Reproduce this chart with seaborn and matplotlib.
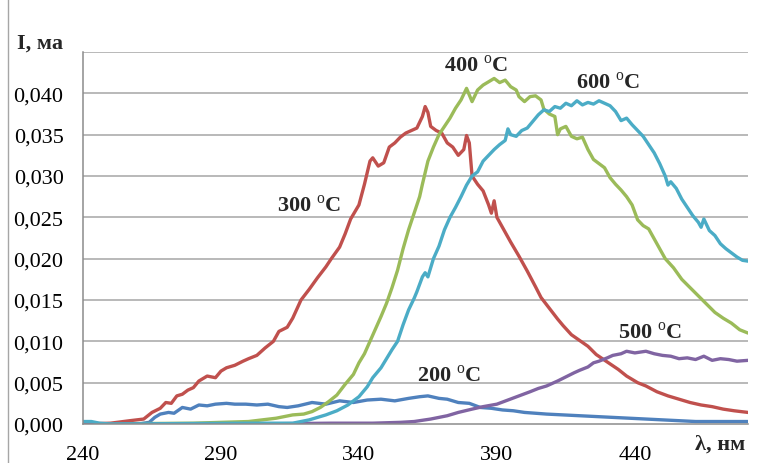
import numpy as np
import pandas as pd
import matplotlib
matplotlib.use("Agg")
import matplotlib.pyplot as plt
from matplotlib.ticker import FuncFormatter
from matplotlib.lines import Line2D
import seaborn as sns

# Spectra (wavelength in nm, current in mA)
wl_200 = [240, 250, 260, 264, 266, 268, 271, 273, 276, 279, 282, 285, 288, 292, 295, 299, 303, 307, 311, 314,
          318, 323, 328, 333, 338, 343, 348, 353, 358, 362, 365, 369, 372, 376, 380, 384, 388, 392, 396, 400,
          404, 408, 414, 420, 426, 432, 438, 444, 450, 456, 462, 468, 474, 481]
i_200 = [0.0, 0.0, 0.0, 0.0002, 0.0008, 0.0012, 0.0014, 0.0013, 0.0020, 0.0018, 0.0023, 0.0022, 0.0024, 0.0025,
         0.0024, 0.0024, 0.0023, 0.0024, 0.0021, 0.0020, 0.0022, 0.0026, 0.0024, 0.0028, 0.0026, 0.0029, 0.0030,
         0.0028, 0.0031, 0.0033, 0.0034, 0.0031, 0.0030, 0.0026, 0.0025, 0.0020, 0.0019, 0.0017, 0.0016, 0.0014,
         0.0013, 0.0012, 0.0011, 0.0010, 0.0009, 0.0008, 0.0007, 0.0006, 0.0005, 0.0004, 0.0003, 0.0003, 0.0003,
         0.0003]

wl_300 = [240, 250, 257, 262, 265, 268, 270, 272, 274, 276, 278, 280, 282, 285, 288, 290, 292, 295, 298, 300,
          303, 306, 309, 311, 314, 316, 319, 322, 325, 328, 330, 333, 335, 337, 340, 342, 344, 345, 347, 349,
          351, 353, 355, 357, 359, 361, 362, 363, 364, 365, 366, 368, 370, 372, 374, 376, 378, 379, 380, 381,
          383, 385, 387, 388, 389, 390, 392, 395, 398, 401, 404, 406, 409, 412, 414, 417, 420, 423, 426, 430,
          434, 437, 441, 444, 448, 452, 456, 460, 464, 468, 472, 476, 481]
i_300 = [0.0, 0.0001, 0.0004, 0.0006, 0.0014, 0.0019, 0.0026, 0.0025, 0.0034, 0.0036, 0.0041, 0.0044, 0.0052,
         0.0058, 0.0056, 0.0064, 0.0068, 0.0071, 0.0076, 0.0079, 0.0083, 0.0092, 0.0100, 0.0112, 0.0117, 0.0128,
         0.0150, 0.0163, 0.0177, 0.0190, 0.0200, 0.0214, 0.0230, 0.0248, 0.0265, 0.0290, 0.0318, 0.0322, 0.0312,
         0.0316, 0.0335, 0.0340, 0.0347, 0.0352, 0.0355, 0.0358, 0.0365, 0.0372, 0.0384, 0.0377, 0.0360, 0.0355,
         0.0352, 0.0340, 0.0335, 0.0325, 0.0332, 0.0349, 0.0340, 0.0300, 0.0290, 0.0282, 0.0265, 0.0255, 0.0270,
         0.0250, 0.0238, 0.0220, 0.0203, 0.0185, 0.0166, 0.0153, 0.0140, 0.0127, 0.0119, 0.0108, 0.0101, 0.0094,
         0.0084, 0.0075, 0.0066, 0.0058, 0.0050, 0.0046, 0.0039, 0.0034, 0.0030, 0.0026, 0.0023, 0.0021, 0.0018,
         0.0016, 0.0014]

wl_400 = [240, 280, 300, 305, 310, 316, 320, 323, 326, 329, 332, 335, 338, 340, 342, 344, 346, 348, 350, 352,
          354, 356, 358, 360, 362, 363, 365, 367, 369, 371, 373, 375, 377, 379, 380, 381, 383, 385, 387, 389,
          391, 393, 395, 397, 398, 400, 402, 404, 406, 407, 409, 411, 412, 413, 415, 417, 419, 421, 423, 425,
          427, 429, 431, 433, 435, 437, 439, 441, 443, 445, 448, 451, 454, 457, 460, 463, 466, 469, 472, 475,
          478, 481]
i_400 = [0.0, 0.0001, 0.0003, 0.0005, 0.0007, 0.0011, 0.0012, 0.0015, 0.0020, 0.0027, 0.0035, 0.0048, 0.0060,
         0.0074, 0.0085, 0.0100, 0.0115, 0.0130, 0.0146, 0.0165, 0.0186, 0.0212, 0.0235, 0.0255, 0.0275, 0.0290,
         0.0318, 0.0335, 0.0350, 0.0360, 0.0370, 0.0382, 0.0392, 0.0406, 0.0398, 0.0390, 0.0404, 0.0410, 0.0414,
         0.0418, 0.0413, 0.0416, 0.0408, 0.0404, 0.0396, 0.0390, 0.0396, 0.0397, 0.0392, 0.0381, 0.0375, 0.0372,
         0.0350, 0.0357, 0.0360, 0.0348, 0.0345, 0.0347, 0.0332, 0.0320, 0.0315, 0.0310, 0.0298, 0.0290, 0.0283,
         0.0275, 0.0265, 0.0247, 0.0240, 0.0236, 0.0218, 0.0200, 0.0189, 0.0175, 0.0165, 0.0155, 0.0145, 0.0135,
         0.0128, 0.0122, 0.0114, 0.0110]

wl_500 = [240, 300, 330, 345, 355, 360, 366, 372, 376, 381, 385, 390, 394, 398, 402, 405, 408, 412, 415, 418,
          420, 423, 425, 427, 430, 432, 435, 437, 440, 442, 444, 447, 450, 453, 456, 459, 462, 465, 468, 471,
          474, 477, 481]
i_500 = [0.0, 0.0, 0.0001, 0.0001, 0.0002, 0.0003, 0.0006, 0.0010, 0.0014, 0.0018, 0.0021, 0.0024, 0.0029,
         0.0034, 0.0039, 0.0043, 0.0046, 0.0052, 0.0057, 0.0062, 0.0065, 0.0069, 0.0074, 0.0076, 0.0080, 0.0083,
         0.0085, 0.0088, 0.0086, 0.0087, 0.0088, 0.0085, 0.0083, 0.0082, 0.0079, 0.0080, 0.0078, 0.0082, 0.0077,
         0.0079, 0.0078, 0.0076, 0.0077]

wl_600 = [240, 243, 246, 250, 300, 316, 322, 328, 332, 336, 340, 343, 345, 348, 350, 352, 354, 356, 358, 360,
          361, 363, 364, 365, 367, 369, 371, 373, 375, 377, 379, 381, 383, 385, 387, 389, 391, 393, 394, 395,
          397, 399, 401, 403, 405, 407, 409, 411, 413, 415, 417, 419, 421, 423, 425, 427, 429, 431, 433, 435,
          437, 439, 441, 443, 445, 447, 449, 451, 452, 453, 455, 457, 459, 461, 463, 464, 465, 467, 469, 471,
          473, 475, 477, 479, 481]
i_600 = [0.0003, 0.0003, 0.0001, 0.0, 0.0001, 0.0001, 0.0005, 0.0011, 0.0016, 0.0023, 0.0033, 0.0045, 0.0056,
         0.0068, 0.0079, 0.0090, 0.0100, 0.0120, 0.0138, 0.0152, 0.0160, 0.0178, 0.0183, 0.0178, 0.0200, 0.0215,
         0.0235, 0.0250, 0.0262, 0.0275, 0.0289, 0.0300, 0.0305, 0.0318, 0.0325, 0.0332, 0.0338, 0.0343, 0.0357,
         0.0350, 0.0348, 0.0355, 0.0358, 0.0366, 0.0374, 0.0380, 0.0378, 0.0384, 0.0382, 0.0388, 0.0385, 0.0391,
         0.0386, 0.0389, 0.0387, 0.0391, 0.0388, 0.0385, 0.0378, 0.0367, 0.0370, 0.0362, 0.0355, 0.0348, 0.0338,
         0.0328, 0.0315, 0.0300, 0.0289, 0.0293, 0.0285, 0.0272, 0.0262, 0.0252, 0.0244, 0.0238, 0.0248, 0.0234,
         0.0228, 0.0218, 0.0212, 0.0207, 0.0202, 0.0198, 0.0197]

series_names = ["200", "300", "400", "500", "600"]
series_colors = ["#4F81BD", "#C0504D", "#9BBB59", "#8064A2", "#4BACC6"]
x_ticks = [240, 290, 340, 390, 440]
y_ticks = [0.0, 0.005, 0.010, 0.015, 0.020, 0.025, 0.030, 0.035, 0.040]
# label anchor (nm, mA) for each curve annotation
label_pos = {"200": (372.6, 0.0059), "300": (321.9, 0.0265), "400": (382.4, 0.0434),
             "500": (445.4, 0.0111), "600": (430.2, 0.0413)}

frames = []
for name, wl, cur in zip(series_names, [wl_200, wl_300, wl_400, wl_500, wl_600],
                         [i_200, i_300, i_400, i_500, i_600]):
    frames.append(pd.DataFrame({"wl": wl, "I": cur, "T": name}))
df = pd.concat(frames, ignore_index=True)

sns.set_style("white")
plt.rcParams["font.family"] = ["Liberation Serif", "DejaVu Serif"]
plt.rcParams["mathtext.fontset"] = "custom"
plt.rcParams["mathtext.rm"] = "Liberation Serif"
plt.rcParams["mathtext.bf"] = "Liberation Serif:bold"

fig = plt.figure(figsize=(7.61, 4.64), dpi=100)
ax = fig.add_axes([83 / 761, 1 - 425 / 464, (748 - 83) / 761, (425 - 53) / 464])

sns.lineplot(data=df, x="wl", y="I", hue="T", hue_order=series_names,
             palette=dict(zip(series_names, series_colors)), estimator=None, sort=False,
             linewidth=2.4, legend=False, ax=ax)

ax.set_xlim(240, 481)
ax.set_ylim(0, 0.045)
ax.set_xticks(x_ticks)
ax.set_yticks(y_ticks)
ax.yaxis.set_major_formatter(FuncFormatter(lambda v, p: f"{v:.3f}".replace(".", ",")))
ax.set_xlabel("")
ax.set_ylabel("")

# horizontal grid, including top line at 0.045
for yv in np.arange(0.005, 0.0451, 0.005):
    ax.axhline(yv, color="#A6A6A6", linewidth=1.1, zorder=0)

for side in ["top", "right"]:
    ax.spines[side].set_visible(False)
for side in ["left", "bottom"]:
    ax.spines[side].set_color("#8C8C8C")
    ax.spines[side].set_linewidth(1.1)

ax.tick_params(axis="both", which="major", direction="out", length=5, width=1.1,
               color="#8C8C8C", labelsize=16, labelcolor="black")
ax.tick_params(axis="x", pad=10)
ax.tick_params(axis="y", pad=9)

for name in series_names:
    x, y = label_pos[name]
    ax.text(x, y, name + r" $^\mathrm{o}$C", fontsize=16, fontweight="bold", ha="center", va="center")

fig.text(17 / 761, 1 - 44 / 464, "I, ма", fontsize=16, fontweight="bold", ha="left", va="center")
fig.text(720 / 761, 1 - 445 / 464, "λ, нм", fontsize=16, fontweight="bold", ha="center", va="center")

# chart frame edge on the left
fig.add_artist(Line2D([8 / 761, 8 / 761], [0, 1], transform=fig.transFigure, color="#A6A6A6", linewidth=1))

fig.savefig("out.png", dpi=100)
